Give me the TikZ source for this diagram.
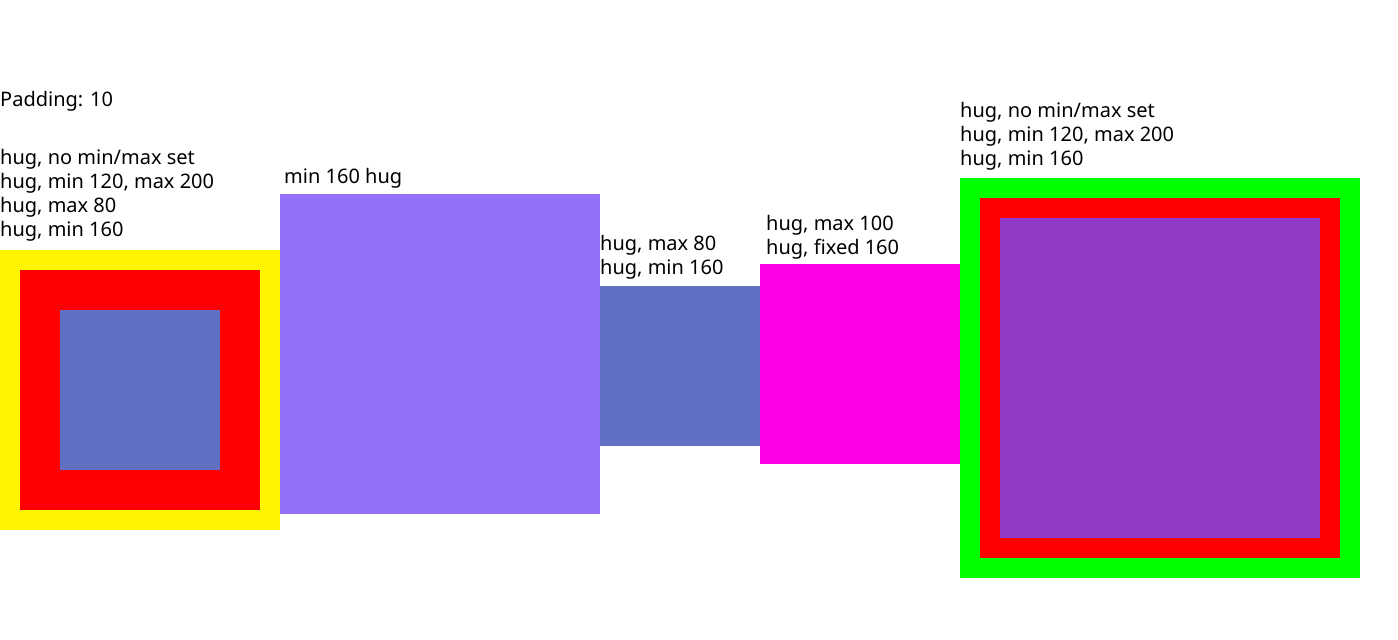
\documentclass[tikz,border=0pt]{standalone}
\usepackage{fontspec}
\setmainfont{Noto Sans}
\usetikzlibrary{positioning}
\definecolor{hugyellow}{RGB}{255,245,0}
\definecolor{hugred}{RGB}{255,0,0}
\definecolor{hugblue}{RGB}{96,113,196}
\definecolor{hugviolet}{RGB}{147,112,245}
\definecolor{hugmagenta}{RGB}{255,0,230}
\definecolor{huggreen}{RGB}{0,255,0}
\definecolor{hugpurple}{RGB}{145,60,200}
\tikzset{
	frame/.style={
		draw=none,
		inner sep=0pt,
		outer sep=0pt,
		anchor=north west
	},
	note/.style={
		anchor=base west,
		inner sep=0pt,
		font=\fontsize{20}{24}\selectfont
	}
}

\begin{document}
\begin{tikzpicture}[x=1pt,y=-1pt]
	\useasboundingbox[fill=white] (0,0) rectangle (1398,640);
	
	% Frames
	\node[frame,fill=hugyellow,minimum width=280,minimum height=280] (A) at (0,250) {};
	\node[frame,fill=hugred,minimum width=240,minimum height=240] (A1) at (20,270) {};
	\node[frame,fill=hugblue,minimum width=160,minimum height=160] (A2) at (60,310) {};
	
	\node[frame,fill=hugviolet,minimum width=320,minimum height=320] (B) at (280,194) {};
	
	\node[frame,fill=hugblue,minimum width=160,minimum height=160] (C) at (600,286) {};
	
	\node[frame,fill=hugmagenta,minimum width=200,minimum height=200] (D) at (760,264) {};
	
	\node[frame,fill=huggreen,minimum width=400,minimum height=400] (E) at (960,178) {};
	\node[frame,fill=hugred,minimum width=360,minimum height=360] (E1) at (980,198) {};
	\node[frame,fill=hugpurple,minimum width=320,minimum height=320] (E2) at (1000,218) {};
	
	% Labels
	\node[note] (pad) at (0,106) {Padding: 10};
	\foreach \t [count=\i] in {{hug, no min/max set},{hug, min 120, max 200},{hug, max 80},{hug, min 160}}
		\node[note] (la-\i) at (0,164+24*\i-24) {\t};
	\node[note] (lb-1) at (284,183) {min 160 hug};
	\foreach \t [count=\i] in {{hug, max 80},{hug, min 160}}
		\node[note] (lc-\i) at (600,250+24*\i-24) {\t};
	\foreach \t [count=\i] in {{hug, max 100},{hug, fixed 160}}
		\node[note] (ld-\i) at (766,230+24*\i-24) {\t};
	\foreach \t [count=\i] in {{hug, no min/max set},{hug, min 120, max 200},{hug, min 160}}
		\node[note] (le-\i) at (960,117+24*\i-24) {\t};
	
\end{tikzpicture}
\end{document}
